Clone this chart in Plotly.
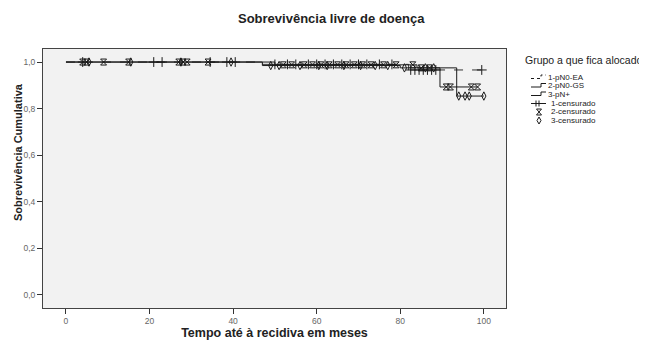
import numpy as np
import plotly.graph_objects as go

# ---- Data ----
groups = ["1-pN0-EA", "2-pN0-GS", "3-pN+"]
censor_labels = ["1-censurado", "2-censurado", "3-censurado"]

# Kaplan-Meier step points (time in months, cumulative survival)
g1_time = [0, 47, 82, 100]
g1_surv = [1.0, 0.990, 0.966, 0.966]
g2_time = [0, 50, 84, 89.5, 98.5]
g2_surv = [1.0, 0.988, 0.975, 0.893, 0.893]
g3_time = [0, 47, 80, 93.5, 100]
g3_surv = [1.0, 0.985, 0.975, 0.854, 0.854]

# Censored observation times
g1_cens = [4, 21, 23, 34.5, 38.5, 40.5, 50, 53, 55, 58, 60, 62, 64, 66, 68,
           70, 72, 75, 78, 82.5, 83.5, 84.5, 85.5, 86.5, 87.5, 88.5, 99.5]
g2_cens = [4, 5, 9, 15, 27, 28, 29, 34, 52, 54, 57, 59, 61, 63, 65, 67, 69,
           71, 73, 76, 79, 83, 85, 87, 91, 92, 97, 98.5]
g3_cens = [5.5, 15.5, 27.5, 39.5, 49, 51, 56, 60.5, 62.5, 66.5, 70.5, 74, 77,
           81, 86, 88, 94, 95.5, 96.5, 100]

x_ticks = [0, 20, 40, 60, 80, 100]
y_ticks = [0.0, 0.2, 0.4, 0.6, 0.8, 1.0]
y_tick_text = ["0,0", "0,2", "0,4", "0,6", "0,8", "1,0"]


def surv_at(times, surv, t):
    idx = np.searchsorted(np.array(times), np.array(t), side="right") - 1
    return np.array(surv)[idx]


# page body has an 8px margin; figure sized to fill the rest of the window
OFF = 8
W, H = 647 - OFF, 342 - OFF
PL, PR, PT, PB = 43, 506, 49, 308          # plot box in window pixels
L, R, T, B = PL - OFF, 647 - PR, PT - OFF, 342 - PB
PW, PH = PR - PL, PB - PT


def px(xp):
    return (xp - PL) / PW


def py(yp):
    return (PB - yp) / PH


fig = go.Figure()
line_col = "#1a1a1a"

fig.add_trace(go.Scatter(x=g1_time, y=g1_surv, mode="lines", line_shape="hv",
                         line=dict(color="#333333", width=1, dash="dash"),
                         name=groups[0], showlegend=False))
fig.add_trace(go.Scatter(x=g2_time, y=g2_surv, mode="lines", line_shape="hv",
                         line=dict(color=line_col, width=1),
                         name=groups[1], showlegend=False))
fig.add_trace(go.Scatter(x=g3_time, y=g3_surv, mode="lines", line_shape="hv",
                         line=dict(color=line_col, width=1),
                         name=groups[2], showlegend=False))

fig.add_trace(go.Scatter(x=g1_cens, y=surv_at(g1_time, g1_surv, g1_cens),
                         mode="markers", name=censor_labels[0], showlegend=False,
                         marker=dict(symbol="cross-thin-open", size=7,
                                     color=line_col,
                                     line=dict(color=line_col, width=1))))
fig.add_trace(go.Scatter(x=g2_cens, y=surv_at(g2_time, g2_surv, g2_cens),
                         mode="markers", name=censor_labels[1], showlegend=False,
                         marker=dict(symbol="hourglass-open", size=6,
                                     color=line_col,
                                     line=dict(color=line_col, width=1))))
fig.add_trace(go.Scatter(x=g3_cens, y=surv_at(g3_time, g3_surv, g3_cens),
                         mode="markers", name=censor_labels[2], showlegend=False,
                         marker=dict(symbol="diamond-tall-open", size=6,
                                     color=line_col,
                                     line=dict(color=line_col, width=1))))

# ---- Custom legend (layout shapes / annotations) ----
shapes = []
annotations = []
annotations.append(dict(x=px(523), y=py(60), xref="paper", yref="paper",
                        text="Grupo a que fica alocado", showarrow=False,
                        xanchor="left", yanchor="middle",
                        font=dict(size=10.5, color="#222")))
rows = [77, 85.5, 94, 103.5, 112, 120.5]
labels = groups + censor_labels
text_x = [546, 546, 546, 549, 549, 549]
for r, lab, tx in zip(rows, labels, text_x):
    annotations.append(dict(x=px(tx), y=py(r), xref="paper", yref="paper",
                            text=lab, showarrow=False, xanchor="left",
                            yanchor="middle", font=dict(size=8, color="#222")))

gx0, gx1 = 531, 546
# line glyphs (small steps)
for i, r in enumerate(rows[:3]):
    dash = "dot" if i == 0 else "solid"
    path = (f"M{px(gx0)},{py(r + 1.5)} L{px(gx1 - 5)},{py(r + 1.5)} "
            f"L{px(gx1 - 5)},{py(r - 2)} L{px(gx1)},{py(r - 2)}")
    shapes.append(dict(type="path", xref="paper", yref="paper", path=path,
                       line=dict(color=line_col, width=1, dash=dash)))
# plus glyph
r = rows[3]
shapes.append(dict(type="line", xref="paper", yref="paper", x0=px(gx0),
                   x1=px(gx1), y0=py(r), y1=py(r),
                   line=dict(color=line_col, width=1)))
for xx in (gx0 + 5, gx0 + 8):
    shapes.append(dict(type="line", xref="paper", yref="paper", x0=px(xx),
                       x1=px(xx), y0=py(r - 3), y1=py(r + 3),
                       line=dict(color=line_col, width=1)))
# hourglass glyph
r = rows[4]
cx = 539
path = (f"M{px(cx - 2.5)},{py(r - 3)} L{px(cx + 2.5)},{py(r - 3)} "
        f"L{px(cx - 2.5)},{py(r + 3)} L{px(cx + 2.5)},{py(r + 3)} Z")
shapes.append(dict(type="path", xref="paper", yref="paper", path=path,
                   line=dict(color=line_col, width=1)))
# diamond glyph
r = rows[5]
path = (f"M{px(cx)},{py(r - 3.5)} L{px(cx + 2)},{py(r)} "
        f"L{px(cx)},{py(r + 3.5)} L{px(cx - 2)},{py(r)} Z")
shapes.append(dict(type="path", xref="paper", yref="paper", path=path,
                   line=dict(color=line_col, width=1)))

# Title
annotations.append(dict(x=px(331), y=py(18), xref="paper", yref="paper",
                        text="<b>Sobrevivência livre de doença</b>",
                        showarrow=False, xanchor="center", yanchor="middle",
                        font=dict(size=13, color="#222")))
# Y axis title
annotations.append(dict(x=px(18), y=py(152), xref="paper", yref="paper",
                        text="<b>Sobrevivência Cumulativa</b>", textangle=-90,
                        showarrow=False, xanchor="center", yanchor="middle",
                        font=dict(size=11, color="#222")))

fig.update_layout(
    width=W, height=H,
    margin=dict(l=L, r=R, t=T, b=B),
    paper_bgcolor="white",
    plot_bgcolor="#f2f2f2",
    font=dict(family="Liberation Sans, Arial, sans-serif"),
    showlegend=False,
    shapes=shapes,
    annotations=annotations,
)
fig.update_xaxes(range=[-5.5, 105.3], tickvals=x_ticks, ticks="outside",
                 ticklen=5, tickcolor="#333", showgrid=False, zeroline=False,
                 showline=True, linecolor="#444", linewidth=1, mirror=True,
                 automargin=False,
                 tickfont=dict(size=8.5, color="#666"),
                 title=dict(text="<b>Tempo até à recidiva em meses</b>",
                            font=dict(size=12.5, color="#222"), standoff=2))
fig.update_yaxes(range=[-0.056, 1.056], tickvals=y_ticks, ticktext=y_tick_text,
                 ticks="outside", ticklen=5, tickcolor="#333", showgrid=False,
                 zeroline=False, showline=True, linecolor="#444", linewidth=1,
                 mirror=True, automargin=False,
                 tickfont=dict(size=8.5, color="#666"))

fig.write_html("out.html")
